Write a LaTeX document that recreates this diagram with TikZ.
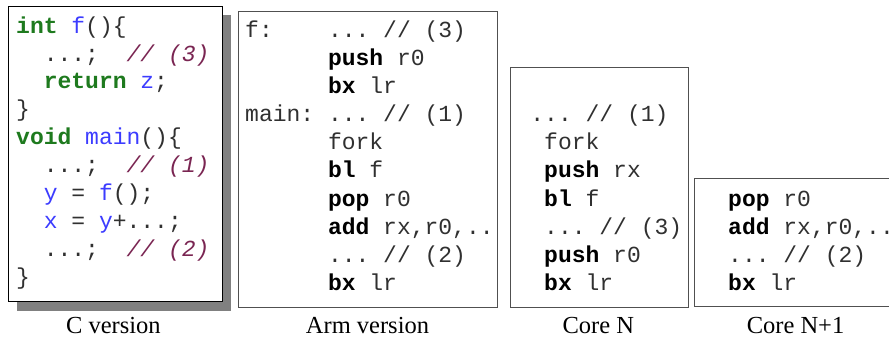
\documentclass[tikz,border=0pt]{standalone}
\usepackage{fontspec}
\setmainfont{Liberation Serif}
\setmonofont{Liberation Mono}
\definecolor{kw}{HTML}{1E7A1E}
\definecolor{idc}{HTML}{3C3CFF}
\definecolor{cmt}{HTML}{7A2552}
\definecolor{shadowgray}{HTML}{808080}
\definecolor{framegray}{HTML}{505050}
\definecolor{plaincode}{HTML}{303030}
\newcommand\Kw[1]{\textcolor{kw}{\textbf{#1}}}
\newcommand\Id[1]{\textcolor{idc}{#1}}
\newcommand\Cmt[1]{\textcolor{cmt}{\itshape #1}}
\newcommand\Bf[1]{\textcolor{black}{\textbf{#1}}}
\newcommand\Ind{\phantom{xx}}
\tikzset{
  code/.style={anchor=base west, inner sep=0pt, text=plaincode, font=\fontsize{23}{28}\selectfont\ttfamily},
  box/.style={draw=framegray, line width=1pt},
  cbox/.style={draw=black, fill=white, line width=1pt},
  shadowbox/.style={fill=shadowgray, draw=none},
  lab/.style={anchor=base, inner sep=0pt, font=\fontsize{24.5}{30}\selectfont}
}
\begin{document}
\begin{tikzpicture}[x=1pt,y=-1pt]
\useasboundingbox (0,0) rectangle (889,339);
% C version
\fill[shadowbox] (16.5,15) rectangle (231,311);
\draw[cbox] (8,6.7) rectangle (222.3,301.7);
\node[code] (c1) at (16,33.3) {\Kw{int} \Id{f}()\{};
\node[code] (c2) at (16,61.2) {\Ind...;\Ind\Cmt{// (3)}};
\node[code] (c3) at (16,89.0) {\Ind\Kw{return} \Id{z};};
\node[code] (c4) at (16,116.9) {\}};
\node[code] (c5) at (16,144.7) {\Kw{void} \Id{main}()\{};
\node[code] (c6) at (16,172.6) {\Ind...;\Ind\Cmt{// (1)}};
\node[code] (c7) at (16,200.4) {\Ind\Id{y} = \Id{f}();};
\node[code] (c8) at (16,228.3) {\Ind\Id{x} = \Id{y}+...;};
\node[code] (c9) at (16,256.1) {\Ind...;\Ind\Cmt{// (2)}};
\node[code] (c10) at (16,284.0) {\}};
\node[lab] (lc) at (113.4,333) {C version};
% Arm version
\draw[box] (238.3,11.7) rectangle (497,307.3);
\node[code] (af) at (245,37.5) {f:};
\node[code] (am) at (245,121.8) {main:};
\node[code] (a1) at (327.8,37.5) {... // (3)};
\node[code] (a2) at (327.8,65.6) {\Bf{push} r0};
\node[code] (a3) at (327.8,93.7) {\Bf{bx} lr};
\node[code] (a4) at (327.8,121.8) {... // (1)};
\node[code] (a5) at (327.8,149.9) {fork};
\node[code] (a6) at (327.8,178.0) {\Bf{bl} f};
\node[code] (a7) at (327.8,206.1) {\Bf{pop} r0};
\node[code] (a8) at (327.8,234.2) {\Bf{add} rx,r0,..};
\node[code] (a9) at (327.8,262.3) {... // (2)};
\node[code] (a10) at (327.8,290.4) {\Bf{bx} lr};
\node[lab] (la) at (367.5,333) {Arm version};
% Core N
\draw[box] (510,68) rectangle (688,307);
\node[code] (n1) at (530.2,121.8) {... // (1)};
\node[code] (n2) at (544,149.9) {fork};
\node[code] (n3) at (544,178.0) {\Bf{push} rx};
\node[code] (n4) at (544,206.1) {\Bf{bl} f};
\node[code] (n5) at (544,234.2) {... // (3)};
\node[code] (n6) at (544,262.3) {\Bf{push} r0};
\node[code] (n7) at (544,290.4) {\Bf{bx} lr};
\node[lab] (ln) at (598.3,333) {Core N};
% Core N+1
\draw[box] (694,179) rectangle (900,306);
\node[code] (m1) at (728,206.1) {\Bf{pop} r0};
\node[code] (m2) at (728,234.2) {\Bf{add} rx,r0,..};
\node[code] (m3) at (728,262.3) {... // (2)};
\node[code] (m4) at (728,290.4) {\Bf{bx} lr};
\node[lab] (lm) at (795.5,333) {Core N+1};
\end{tikzpicture}
\end{document}
